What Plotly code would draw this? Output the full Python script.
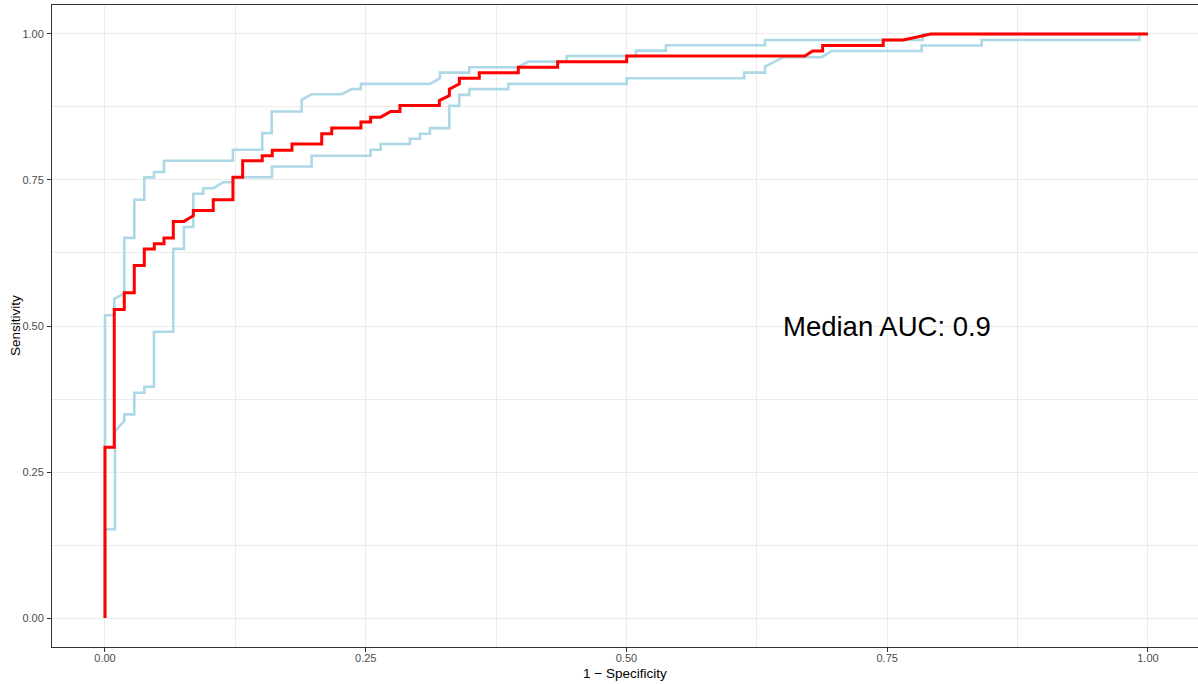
import plotly.graph_objects as go

# Red (median) ROC curve: 1 - specificity, sensitivity
red_fpr = [0, 0, 0.0089, 0.0089, 0.0185, 0.0185, 0.0281, 0.0281, 0.0377, 0.0377,
           0.0473, 0.0473, 0.0566, 0.0566, 0.0655, 0.0655, 0.0757, 0.0847, 0.0847,
           0.1038, 0.1038, 0.1227, 0.1227, 0.1320, 0.1320, 0.1508, 0.1508, 0.1604,
           0.1604, 0.1793, 0.1793, 0.2078, 0.2078, 0.2174, 0.2174, 0.2454, 0.2454,
           0.2547, 0.2547, 0.2643, 0.2739, 0.2828, 0.2828, 0.3206, 0.3206, 0.3302,
           0.3302, 0.3398, 0.3398, 0.3589, 0.3589, 0.3963, 0.3963, 0.4340, 0.4340,
           0.5002, 0.5002, 0.6711, 0.6785, 0.6881, 0.6881, 0.7462, 0.7462, 0.7654,
           0.7919, 1.0]
red_tpr = [0, 0.2923, 0.2923, 0.5282, 0.5282, 0.5568, 0.5568, 0.6034, 0.6034, 0.6320,
           0.6320, 0.6410, 0.6410, 0.6508, 0.6508, 0.6791, 0.6791, 0.6889, 0.6979,
           0.6979, 0.7162, 0.7162, 0.7547, 0.7547, 0.7829, 0.7829, 0.7915, 0.7915,
           0.8009, 0.8009, 0.8115, 0.8115, 0.8291, 0.8291, 0.8388, 0.8388, 0.8491,
           0.8491, 0.8576, 0.8576, 0.8672, 0.8672, 0.8774, 0.8774, 0.8860, 0.8945,
           0.9055, 0.9145, 0.9242, 0.9242, 0.9338, 0.9338, 0.9431, 0.9431, 0.9526,
           0.9526, 0.9624, 0.9624, 0.9709, 0.9709, 0.9803, 0.9803, 0.9897, 0.9897,
           1.0, 1.0]

# Upper light-blue bound curve
upper_fpr = [0, 0, 0.0089, 0.0089, 0.0185, 0.0185, 0.0281, 0.0281, 0.0377, 0.0377,
             0.0470, 0.0470, 0.0566, 0.0566, 0.1227, 0.1227, 0.1508, 0.1508, 0.1598,
             0.1598, 0.1886, 0.1886, 0.1981, 0.2269, 0.2365, 0.2454, 0.2454, 0.3116,
             0.3212, 0.3212, 0.3493, 0.3493, 0.3963, 0.4058, 0.4427, 0.4427, 0.5091,
             0.5091, 0.5379, 0.5379, 0.6328, 0.6328, 0.7840, 0.7840, 1.0]
upper_tpr = [0, 0.5185, 0.5185, 0.5465, 0.5556, 0.6508, 0.6508, 0.7162, 0.7162, 0.7544,
             0.7544, 0.7636, 0.7636, 0.7829, 0.7829, 0.8017, 0.8017, 0.8303, 0.8303,
             0.8672, 0.8672, 0.8872, 0.8969, 0.8969, 0.9055, 0.9055, 0.9145, 0.9145,
             0.9242, 0.9338, 0.9338, 0.9431, 0.9431, 0.9526, 0.9526, 0.9624, 0.9624,
             0.9715, 0.9715, 0.9807, 0.9807, 0.9897, 0.9897, 1.0, 1.0]

# Lower light-blue bound curve
lower_fpr = [0, 0, 0.0096, 0.0096, 0.0185, 0.0185, 0.0281, 0.0281, 0.0377, 0.0377,
             0.0470, 0.0470, 0.0655, 0.0655, 0.0757, 0.0757, 0.0847, 0.0847, 0.0942,
             0.0942, 0.1038, 0.1134, 0.1227, 0.1227, 0.1601, 0.1601, 0.1981, 0.1981,
             0.2547, 0.2547, 0.2643, 0.2643, 0.2924, 0.2924, 0.3020, 0.3020, 0.3116,
             0.3116, 0.3301, 0.3301, 0.3397, 0.3397, 0.3493, 0.3493, 0.3867, 0.3867,
             0.5002, 0.5002, 0.6129, 0.6129, 0.6328, 0.6328, 0.6503, 0.6872, 0.6968,
             0.7830, 0.7830, 0.8406, 0.8406, 0.9917, 0.9917, 1.0]
lower_tpr = [0, 0.1521, 0.1521, 0.3202, 0.3373, 0.3487, 0.3487, 0.3858, 0.3858, 0.3961,
             0.3961, 0.4901, 0.4901, 0.6320, 0.6320, 0.6696, 0.6696, 0.7265, 0.7265,
             0.7359, 0.7359, 0.7462, 0.7462, 0.7547, 0.7547, 0.7732, 0.7732, 0.7915,
             0.7915, 0.8017, 0.8017, 0.8115, 0.8115, 0.8205, 0.8205, 0.8291, 0.8291,
             0.8388, 0.8388, 0.8769, 0.8769, 0.8957, 0.8957, 0.9055, 0.9055, 0.9145,
             0.9145, 0.9242, 0.9242, 0.9338, 0.9338, 0.9441, 0.9602, 0.9602, 0.9709,
             0.9709, 0.9803, 0.9803, 0.9897, 0.9897, 1.0, 1.0]

tick_vals = [0, 0.25, 0.5, 0.75, 1.0]
tick_text = ["0.00", "0.25", "0.50", "0.75", "1.00"]
annotation_text = "Median AUC: 0.9"
x_title = "1 \u2212 Specificity"
y_title = "Sensitivity"

fig = go.Figure()
fig.add_trace(go.Scatter(x=upper_fpr, y=upper_tpr, mode="lines",
                         line=dict(color="#ADD8E6", width=2.6), hoverinfo="skip"))
fig.add_trace(go.Scatter(x=lower_fpr, y=lower_tpr, mode="lines",
                         line=dict(color="#ADD8E6", width=2.6), hoverinfo="skip"))
fig.add_trace(go.Scatter(x=red_fpr, y=red_tpr, mode="lines",
                         line=dict(color="#FF0000", width=3), hoverinfo="skip"))

grid = "#EBEBEB"
tickfont = dict(family="Liberation Sans, Arial, sans-serif", size=11, color="#4D4D4D")

fig.update_layout(
    width=1198, height=684,
    margin=dict(l=52, r=0, t=5, b=37),
    paper_bgcolor="white", plot_bgcolor="white",
    showlegend=False,
    font=dict(family="Liberation Sans, Arial, sans-serif"),
    xaxis=dict(range=[-0.0508, 1.048], tickvals=tick_vals, ticktext=tick_text,
               showgrid=True, gridcolor=grid, gridwidth=1,
               minor=dict(dtick=0.125, tick0=0, showgrid=True, gridcolor=grid, gridwidth=0.6),
               zeroline=False, showline=True, mirror=True, linecolor="#333333", linewidth=1,
               ticks="outside", ticklen=4, tickcolor="#333333", tickwidth=1,
               tickfont=tickfont, ticklabelstandoff=-3),
    yaxis=dict(range=[-0.0496, 1.0496], tickvals=tick_vals, ticktext=tick_text,
               showgrid=True, gridcolor=grid, gridwidth=1,
               minor=dict(dtick=0.125, tick0=0, showgrid=True, gridcolor=grid, gridwidth=0.6),
               zeroline=False, showline=True, mirror=False, linecolor="#333333", linewidth=1,
               ticks="outside", ticklen=4, tickcolor="#333333", tickwidth=1,
               tickfont=tickfont, ticklabelstandoff=1),
    annotations=[
        dict(x=0.75, y=0.5, xref="x", yref="y", text=annotation_text, showarrow=False,
             font=dict(size=27.5, color="black"), xanchor="center", yanchor="middle"),
        dict(x=0.5, y=0, xref="paper", yref="paper", yshift=-26, text=x_title,
             showarrow=False, font=dict(size=13.5, color="black"),
             xanchor="center", yanchor="middle"),
        dict(x=0, y=0.5, xref="paper", yref="paper", xshift=-37, text=y_title,
             showarrow=False, font=dict(size=13.5, color="black"), textangle=-90,
             xanchor="center", yanchor="middle"),
    ],
)

fig.write_html("out.html")
